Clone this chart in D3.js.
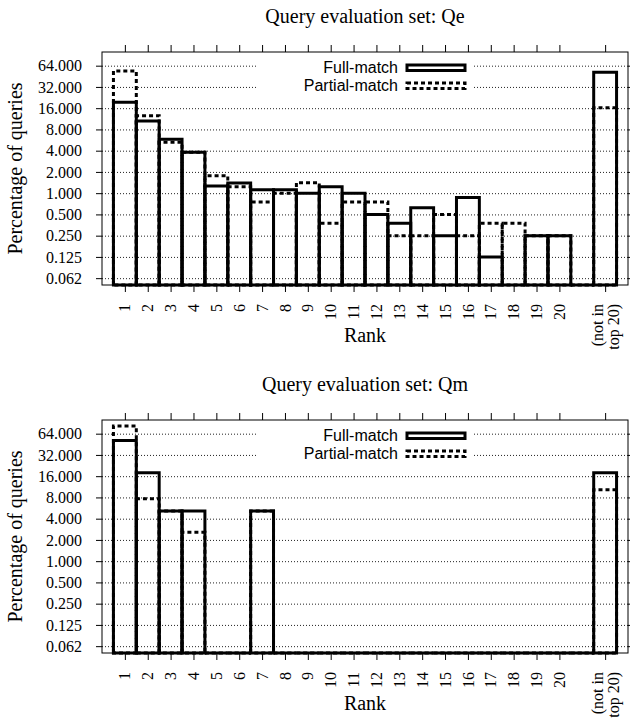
<!DOCTYPE html>
<html>
<head>
<meta charset="utf-8">
<script src="https://cdn.jsdelivr.net/npm/d3@7"></script>
<style>
  html, body { margin: 0; padding: 0; background: #fff; }
  svg { display: block; }
</style>
</head>
<body>
<svg id="chart" width="630" height="719"></svg>
<script>
// ---- data ----
const categories = ["1","2","3","4","5","6","7","8","9","10","11","12","13","14","15","16","17","18","19","20","","(not in|top 20)"];
const positions = [1,2,3,4,5,6,7,8,9,10,11,12,13,14,15,16,17,18,19,20,21,22];

const qeFull    = [19.4, 10.5, 5.8, 3.8, 1.26, 1.39, 1.12, 1.12, 1.0, 1.23, 1.0, 0.5, 0.375, 0.62, 0.25, 0.87, 0.125, 0, 0.25, 0.25, 0, 51.6];
const qePartial = [54, 12.5, 5.25, 3.8, 1.77, 1.23, 0.75, 1.0, 1.41, 0.375, 0.75, 0.75, 0.25, 0.25, 0.5, 0.25, 0.375, 0.375, 0.25, 0.25, 0, 16.2];

const qmFull    = [51.3, 17.9, 5.13, 5.13, 0, 0, 5.13, 0, 0, 0, 0, 0, 0, 0, 0, 0, 0, 0, 0, 0, 0, 17.9];
const qmPartial = [82, 7.69, 5.13, 2.56, 0, 0, 5.13, 0, 0, 0, 0, 0, 0, 0, 0, 0, 0, 0, 0, 0, 0, 10.26];

const yTickValues = [64, 32, 16, 8, 4, 2, 1, 0.5, 0.25, 0.125, 0.0625];
const yTickLabels = ["64.000","32.000","16.000","8.000","4.000","2.000","1.000","0.500","0.250","0.125","0.062"];
const seriesNames = ["Full-match", "Partial-match"];
const titles = ["Query evaluation set: Qe", "Query evaluation set: Qm"];

// ---- layout ----
const SERIF = "'Liberation Serif', 'Times New Roman', Times, serif";
const SANS = "'Liberation Sans', Arial, Helvetica, sans-serif";
const svg = d3.select("#chart");
svg.append("rect").attr("width", 630).attr("height", 719).attr("fill", "#fff");

const L = 102, R = 628, T = 52, B = 285;
const x = d3.scaleLinear().domain([0, 23]).range([L, R]);
const y = d3.scaleLog().domain([0.05, 100]).range([B, T]);
const xTickPos = positions.filter((p, i) => categories[i] !== "");

function drawChart(offsetY, title, full, partial) {
  const g = svg.append("g").attr("transform", `translate(0,${offsetY})`);

  // title
  g.append("text").attr("font-family", SERIF)
    .attr("x", (L + R) / 2).attr("y", 23)
    .attr("text-anchor", "middle").attr("font-size", 20)
    .text(title);

  // grid
  const grid = g.append("g").attr("transform", `translate(${L},0)`)
    .call(d3.axisLeft(y).tickValues(yTickValues).tickSize(-(R - L)).tickFormat(""));
  grid.select(".domain").remove();
  grid.selectAll("line").attr("stroke", "#222").attr("stroke-width", 1).attr("stroke-dasharray", "1,2");

  // legend background
  g.append("rect").attr("x", 256).attr("y", 55).attr("width", 218).attr("height", 43).attr("fill", "#fff");

  // y axis (left) with labels
  const yAx = g.append("g").attr("transform", `translate(${L},0)`)
    .call(d3.axisLeft(y).tickValues(yTickValues).tickSize(6).tickPadding(14)
      .tickFormat((d, i) => yTickLabels[i]));
  yAx.attr("font-family", SERIF).attr("font-size", 16);
  yAx.select(".domain").remove();
  yAx.selectAll("text").attr("font-family", SERIF).attr("font-size", 16).attr("fill", "#000");
  yAx.selectAll("line").attr("stroke", "#000");

  // y axis (right) mirror
  const yAxR = g.append("g").attr("transform", `translate(${R},0)`)
    .call(d3.axisRight(y).tickValues(yTickValues).tickSize(6).tickFormat(""));
  yAxR.select(".domain").remove();

  // x axes
  const xAxB = g.append("g").attr("transform", `translate(0,${B})`)
    .call(d3.axisBottom(x).tickValues(xTickPos).tickSize(7).tickFormat(""));
  xAxB.select(".domain").remove();
  const xAxT = g.append("g").attr("transform", `translate(0,${T})`)
    .call(d3.axisTop(x).tickValues(xTickPos).tickSize(7).tickFormat(""));
  xAxT.select(".domain").remove();

  // x tick labels (rotated)
  positions.forEach((p, i) => {
    const lab = categories[i];
    if (!lab) return;
    const lines = lab.split("|");
    lines.forEach((ln, k) => {
      const cx = x(p) + (k - (lines.length - 1) / 2) * 16;
      g.append("text").attr("font-family", SERIF)
        .attr("transform", `translate(${cx},${B + 19}) rotate(-90)`)
        .attr("text-anchor", "end").attr("dy", "0.35em")
        .attr("font-size", 16).text(ln);
    });
  });

  // axis labels
  g.append("text").attr("font-family", SERIF)
    .attr("x", (L + R) / 2).attr("y", 342)
    .attr("text-anchor", "middle").attr("font-size", 20).text("Rank");
  g.append("text").attr("font-family", SERIF)
    .attr("transform", `translate(22,${(T + B) / 2}) rotate(-90)`)
    .attr("text-anchor", "middle").attr("font-size", 20).text("Percentage of queries");

  // bars
  const yv = v => y(Math.max(v, 0.05));
  const barPath = (p, v) => {
    const x0 = x(p - 0.5), x1 = x(p + 0.5), yt = yv(v);
    return `M${x0},${B}V${yt}H${x1}V${B}Z`;
  };
  g.append("g").selectAll("path").data(full).join("path")
    .attr("d", (v, i) => barPath(positions[i], v))
    .attr("fill", "none").attr("stroke", "#000").attr("stroke-width", 3)
    .attr("stroke-linejoin", "miter");
  g.append("g").selectAll("path").data(partial).join("path")
    .attr("d", (v, i) => barPath(positions[i], v))
    .attr("fill", "none").attr("stroke", "#000").attr("stroke-width", 3)
    .attr("stroke-dasharray", "4,3");

  // frame
  g.append("rect").attr("x", L).attr("y", T).attr("width", R - L).attr("height", B - T)
    .attr("fill", "none").attr("stroke", "#000").attr("stroke-width", 1);

  // legend
  const leg = g.append("g");
  seriesNames.forEach((name, k) => {
    const by = 72.5 + k * 18;
    leg.append("text").attr("font-family", SANS)
      .attr("x", 398).attr("y", by).attr("text-anchor", "end")
      .attr("font-size", 16).text(name);
    leg.append("rect").attr("x", 407).attr("y", by - 7.5).attr("width", 58).attr("height", 5.5)
      .attr("fill", "none").attr("stroke", "#000").attr("stroke-width", 3)
      .attr("stroke-dasharray", k === 0 ? null : "4,3");
  });
}

drawChart(0, titles[0], qeFull, qePartial);
drawChart(368, titles[1], qmFull, qmPartial);
</script>
</body>
</html>
